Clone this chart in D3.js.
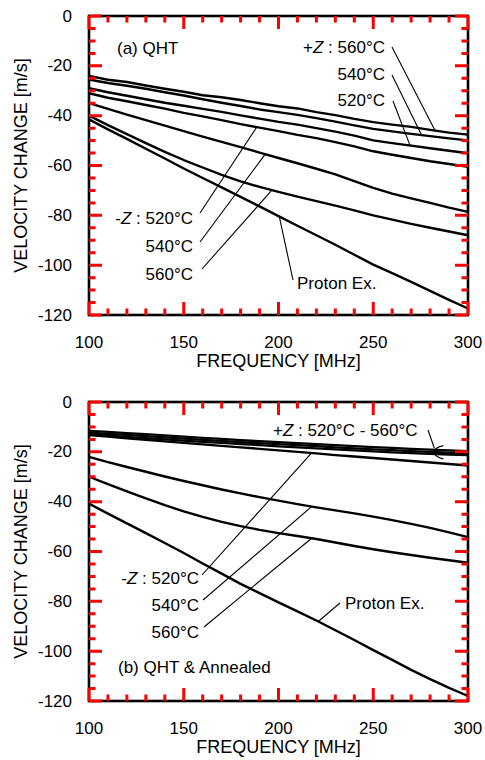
<!DOCTYPE html>
<html>
<head>
<meta charset="utf-8">
<script src="https://cdn.jsdelivr.net/npm/d3@7"></script>
<style>
  html, body { margin: 0; padding: 0; background: #fff; }
  svg { display: block; font-family: "Liberation Sans", Arial, Helvetica, sans-serif; }
</style>
</head>
<body>
<svg id="chart" width="485" height="760"></svg>
<script>
// Frequency grid (MHz) shared by every curve
const freq = [100,110,120,130,140,150,160,170,180,190,200,210,220,230,240,250,260,270,280,290,300];

// (a) QHT — velocity change (m/s)
const qhtPlusZ560  = [-24.0,-25.6,-26.5,-27.9,-29.2,-30.4,-31.8,-32.6,-33.7,-35.0,-36.2,-37.1,-38.6,-39.8,-41.3,-42.6,-43.6,-44.5,-45.7,-46.8,-47.6];
const qhtPlusZ540  = [-25.5,-26.9,-28.0,-29.2,-30.6,-31.9,-33.4,-34.8,-36.1,-37.5,-38.6,-39.7,-41.0,-42.4,-43.9,-45.3,-46.3,-47.3,-48.2,-49.1,-49.9];
const qhtPlusZ520  = [-29.0,-30.6,-32.0,-33.4,-34.8,-36.0,-37.3,-38.5,-39.9,-41.2,-42.5,-43.6,-45.0,-46.4,-48.0,-49.9,-51.0,-52.0,-53.1,-54.1,-55.1];
const qhtMinusZ520 = [-31.0,-32.8,-34.2,-35.7,-37.2,-38.9,-40.3,-41.8,-43.4,-44.8,-46.2,-47.7,-49.0,-50.6,-52.3,-54.3,-55.7,-57.0,-58.3,-59.4,-60.5];
const qhtMinusZ540 = [-35.0,-37.3,-39.6,-41.8,-44.0,-46.2,-48.4,-50.5,-52.6,-54.8,-57.0,-59.1,-61.3,-63.6,-66.3,-69.0,-71.3,-73.2,-75.0,-76.9,-78.6];
const qhtMinusZ560 = [-40.0,-43.8,-47.4,-51.0,-54.5,-57.8,-60.8,-63.8,-66.4,-68.6,-70.6,-72.5,-74.3,-76.1,-78.0,-80.0,-81.7,-83.4,-85.0,-86.5,-88.0];
const qhtProton    = [-41.5,-45.5,-49.3,-53.3,-57.2,-61.2,-65.0,-68.8,-72.6,-76.4,-80.3,-84.2,-88.0,-91.8,-95.8,-99.8,-103.2,-106.7,-110.3,-113.9,-117.4];

// (b) QHT & Annealed — velocity change (m/s)
const annPlusZ560  = [-11.6,-12.0,-12.5,-12.9,-13.4,-13.9,-14.4,-14.8,-15.3,-15.7,-16.1,-16.5,-16.9,-17.3,-17.7,-18.1,-18.4,-18.8,-19.1,-19.4,-19.7];
const annPlusZ540  = [-12.3,-12.8,-13.2,-13.7,-14.2,-14.7,-15.2,-15.6,-16.1,-16.5,-16.9,-17.3,-17.7,-18.2,-18.6,-19.0,-19.3,-19.7,-20.0,-20.3,-20.5];
const annPlusZ520  = [-13.0,-13.5,-14.0,-14.5,-15.0,-15.5,-16.0,-16.4,-16.9,-17.3,-17.8,-18.2,-18.6,-19.0,-19.4,-19.8,-20.2,-20.5,-20.8,-21.1,-21.3];
const annMinusZ520 = [-13.3,-13.9,-14.6,-15.2,-15.8,-16.4,-17.0,-17.6,-18.2,-18.8,-19.4,-20.0,-20.6,-21.3,-21.9,-22.5,-23.1,-23.7,-24.3,-24.9,-25.5];
const annMinusZ540 = [-22.0,-24.1,-26.1,-28.0,-29.9,-31.7,-33.4,-35.1,-36.7,-38.2,-39.6,-41.0,-42.3,-43.5,-44.7,-46.0,-47.4,-48.9,-50.5,-52.3,-54.2];
const annMinusZ560 = [-30.0,-33.0,-35.9,-38.7,-41.4,-43.9,-46.1,-48.1,-49.8,-51.3,-52.6,-53.8,-55.0,-56.4,-57.8,-59.1,-60.3,-61.4,-62.5,-63.5,-64.5];
const annProton    = [-40.8,-44.8,-48.7,-52.6,-56.6,-60.6,-64.8,-68.9,-73.0,-76.7,-80.4,-84.0,-87.7,-91.6,-95.5,-99.6,-103.5,-107.5,-111.2,-114.7,-118.0];

// Axis ticks
const xMajorTicks = [100,150,200,250,300];
const xMinorTicks = [110,120,130,140,160,170,180,190,210,220,230,240,260,270,280,290];
const yMajorTicks = [0,-20,-40,-60,-80,-100,-120];
const yMinorTicks = [-5,-10,-15,-25,-30,-35,-45,-50,-55,-65,-70,-75,-85,-90,-95,-105,-110,-115];

const svg = d3.select("#chart");
const FS = 17;

// value of a series at an arbitrary frequency (for leader-line anchors)
function valueAt(series, f) {
  const i = Math.min(freq.length - 2, Math.max(0, d3.bisectRight(freq, f) - 1));
  const t = (f - freq[i]) / (freq[i + 1] - freq[i]);
  return series[i] + t * (series[i + 1] - series[i]);
}

function drawPanel(panelTop, series) {
  const left = 89, right = 468, bottom = panelTop + 299;
  const x = d3.scaleLinear().domain([100, 300]).range([left, right]);
  const y = d3.scaleLinear().domain([-120, 0]).range([bottom, panelTop]);
  const g = svg.append("g");

  // curves
  const line = d3.line().x((d, i) => x(freq[i])).y(d => y(d));
  series.forEach(s => {
    g.append("path").attr("d", line(s)).attr("fill", "none")
      .attr("stroke", "#000").attr("stroke-width", 2.4).attr("stroke-linejoin", "round");
  });

  // frame
  g.append("rect").attr("x", left).attr("y", panelTop)
    .attr("width", right - left).attr("height", bottom - panelTop)
    .attr("fill", "none").attr("stroke", "#000").attr("stroke-width", 2.6);

  // inward ticks on all four sides, one path
  const p = d3.path();
  const xt = xMajorTicks.map(v => [v, 13]).concat(xMinorTicks.map(v => [v, 6.5]));
  const yt = yMajorTicks.map(v => [v, 13]).concat(yMinorTicks.map(v => [v, 6.5]));
  xt.forEach(([v, len]) => {
    p.moveTo(x(v), bottom); p.lineTo(x(v), bottom - len);
    p.moveTo(x(v), panelTop); p.lineTo(x(v), panelTop + len);
  });
  yt.forEach(([v, len]) => {
    p.moveTo(left, y(v)); p.lineTo(left + len, y(v));
    p.moveTo(right, y(v)); p.lineTo(right - len, y(v));
  });
  g.append("path").attr("d", p.toString()).attr("fill", "none")
    .attr("stroke", "red").attr("stroke-width", 3);

  // tick labels
  g.selectAll(null).data(xMajorTicks).join("text")
    .attr("x", d => x(d)).attr("y", bottom + 27)
    .attr("text-anchor", "middle").attr("dominant-baseline", "central")
    .attr("font-size", FS).text(d => String(d));
  g.selectAll(null).data(yMajorTicks).join("text")
    .attr("x", left - 17).attr("y", d => y(d))
    .attr("text-anchor", "end").attr("dominant-baseline", "central")
    .attr("font-size", FS).text(d => String(d));

  // axis titles
  g.append("text").attr("x", (left + right) / 2).attr("y", bottom + 46)
    .attr("text-anchor", "middle").attr("dominant-baseline", "central")
    .attr("font-size", 18).text("FREQUENCY [MHz]");
  g.append("text").attr("transform", `translate(21,${(panelTop + bottom) / 2}) rotate(-90)`)
    .attr("text-anchor", "middle").attr("dominant-baseline", "central")
    .attr("font-size", 18).text("VELOCITY CHANGE [m/s]");

  return { g, x, y };
}

function label(g, px, py, anchor, parts) {
  const t = g.append("text").attr("x", px).attr("y", py)
    .attr("text-anchor", anchor).attr("dominant-baseline", "central")
    .attr("font-size", FS);
  parts.forEach(p => {
    const ts = t.append("tspan").text(p.t);
    if (p.i) ts.attr("font-style", "italic");
  });
}

function leader(g, x0, y0, x1, y1) {
  g.append("line").attr("x1", x0).attr("y1", y0).attr("x2", x1).attr("y2", y1)
    .attr("stroke", "#000").attr("stroke-width", 1.1);
}

// ---- (a) QHT ----
const pa = drawPanel(16, [qhtPlusZ560, qhtPlusZ540, qhtPlusZ520, qhtMinusZ520, qhtMinusZ540, qhtMinusZ560, qhtProton]);
label(pa.g, 117, 48, "start", [{t: "(a) QHT"}]);
label(pa.g, 385, 47, "end", [{t: "+"}, {t: "Z", i: true}, {t: " : 560°C"}]);
label(pa.g, 385, 74, "end", [{t: "540°C"}]);
label(pa.g, 385, 100, "end", [{t: "520°C"}]);
leader(pa.g, 392, 47, pa.x(282.6), pa.y(valueAt(qhtPlusZ560, 282.6)));
leader(pa.g, 392, 75, pa.x(275.5), pa.y(valueAt(qhtPlusZ540, 275.5)));
leader(pa.g, 393, 101, pa.x(269.4), pa.y(valueAt(qhtPlusZ520, 269.4)));
label(pa.g, 193, 218, "end", [{t: "-"}, {t: "Z", i: true}, {t: " : 520°C"}]);
label(pa.g, 193, 246, "end", [{t: "540°C"}]);
label(pa.g, 193, 274, "end", [{t: "560°C"}]);
leader(pa.g, 200, 213, pa.x(188.5), pa.y(valueAt(qhtMinusZ520, 188.5)));
leader(pa.g, 200, 242, pa.x(193), pa.y(valueAt(qhtMinusZ540, 193)));
leader(pa.g, 202, 269, pa.x(196.5), pa.y(valueAt(qhtMinusZ560, 196.5)));
label(pa.g, 297, 283, "start", [{t: "Proton Ex."}]);
leader(pa.g, 293, 280, pa.x(200.4), pa.y(valueAt(qhtProton, 200.4)));

// ---- (b) QHT & Annealed ----
const pb = drawPanel(402, [annPlusZ560, annPlusZ540, annPlusZ520, annMinusZ520, annMinusZ540, annMinusZ560, annProton]);
label(pb.g, 273, 430, "start", [{t: "+"}, {t: "Z", i: true}, {t: " : 520°C - 560°C"}]);
{
  const f = 287, bx = pb.x(f);
  const yTop = pb.y(valueAt(annPlusZ560, f)) - 4.5;
  const yBot = pb.y(valueAt(annPlusZ520, f)) + 4.5;
  leader(pb.g, 428, 430, bx - 9, (yTop + yBot) / 2 - 4);
  pb.g.append("path")
    .attr("d", `M${bx},${yTop} Q${bx - 9},${yTop + 2} ${bx - 9},${(yTop + yBot) / 2} Q${bx - 9},${yBot - 2} ${bx},${yBot}`)
    .attr("fill", "none").attr("stroke", "#000").attr("stroke-width", 1.1);
}
label(pb.g, 199, 578, "end", [{t: "-"}, {t: "Z", i: true}, {t: " : 520°C"}]);
label(pb.g, 199, 605, "end", [{t: "540°C"}]);
label(pb.g, 199, 632, "end", [{t: "560°C"}]);
leader(pb.g, 202, 575, pb.x(217.5), pb.y(valueAt(annMinusZ520, 217.5)));
leader(pb.g, 203, 600, pb.x(217.5), pb.y(valueAt(annMinusZ540, 217.5)));
leader(pb.g, 204, 627, pb.x(217.5), pb.y(valueAt(annMinusZ560, 217.5)));
label(pb.g, 345, 603, "start", [{t: "Proton Ex."}]);
leader(pb.g, 340, 603, pb.x(221), pb.y(valueAt(annProton, 221)));
label(pb.g, 118, 667, "start", [{t: "(b) QHT & Annealed"}]);
</script>
</body>
</html>
